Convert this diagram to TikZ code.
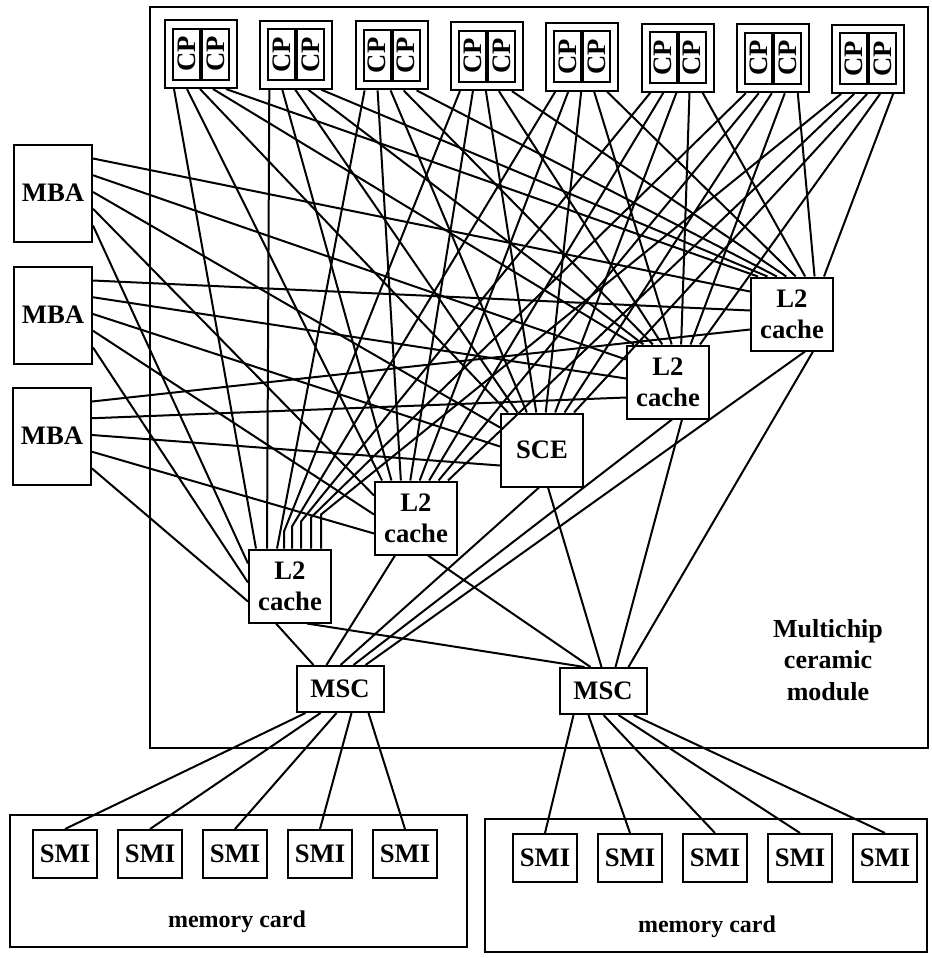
\documentclass[tikz,border=0pt]{standalone}
\usepackage{fontspec}
\setmainfont{Liberation Serif}
\usetikzlibrary{calc}
\begin{document}
\begin{tikzpicture}[x=0.75pt,y=-0.75pt,line width=1.5pt,
  lbl/.style={font=\fontsize{20}{23.5}\selectfont\bfseries,align=center},
  box/.style={draw,line width=1.5pt,inner sep=0pt,lbl},
  modbox/.style={draw,line width=1.5pt,minimum width=54pt,minimum height=51pt,inner sep=0pt},
  cpbox/.style={draw,line width=1.5pt,inner sep=0pt,minimum width=38.25pt,minimum height=20.25pt,rotate=90,lbl},
  mbabox/.style={box,minimum width=58.5pt,minimum height=72.75pt},
  tbox/.style={box,minimum width=61.5pt,minimum height=54.75pt},
  mscbox/.style={box,minimum width=65.25pt,minimum height=34.5pt},
  smibox/.style={box,minimum width=48pt,minimum height=36pt},
  bigbox/.style={draw,line width=1.5pt,inner sep=0pt},
  note/.style={font=\fontsize{18}{23}\selectfont\bfseries,align=center}]
\fill[white] (0,0) rectangle (932,958);
\useasboundingbox (0,0) rectangle (932,958);

% containers
\node[bigbox,minimum width=583.5pt,minimum height=555.75pt] (mcm) at (539,377.5) {};
\node[bigbox,minimum width=342.75pt,minimum height=99pt] (cardL) at (238.5,881) {};
\node[bigbox,minimum width=331.5pt,minimum height=99.75pt] (cardR) at (706,885.5) {};
\node[note,font=\fontsize{19.5}{23.5}\selectfont\bfseries] (mcmlbl) at (828,660) {Multichip\\ceramic\\module};
\node[note] (cardLlbl) at (237,922) {memory card};
\node[note] (cardRlbl) at (707,927) {memory card};

% CP modules
\foreach \i in {1,...,8} {
  \pgfmathsetmacro\cx{201+95.3*(\i-1)}
  \pgfmathsetmacro\cy{54+0.7*(\i-1)}
  \node[modbox] (m\i) at (\cx,\cy) {};
  \node[cpbox] (cp\i-1) at ($(m\i.center)+(-14.5,0)$) {CP};
  \node[cpbox] (cp\i-2) at ($(m\i.center)+(14.5,0)$) {CP};
}

% MBAs
\node[mbabox] (a1) at (53,193) {MBA};
\node[mbabox] (a2) at (53,315) {MBA};
\node[mbabox] (a3) at (52,436) {MBA};

% L2 caches and SCE
\node[tbox] (t1) at (290,586) {L2\\cache};
\node[tbox] (t2) at (416,518) {L2\\cache};
\node[tbox] (t3) at (542,450) {SCE};
\node[tbox] (t4) at (668,382) {L2\\cache};
\node[tbox] (t5) at (792,314) {L2\\cache};

% MSCs
\node[mscbox] (s1) at (340,689) {MSC};
\node[mscbox] (s2) at (603,691) {MSC};

% SMIs
\foreach \n/\x in {1/65,2/150,3/235,4/320,5/405}
  \node[smibox] (l\n) at (\x,854) {SMI};
\foreach \n/\x in {1/545,2/630,3/715,4/800,5/885}
  \node[smibox] (r\n) at (\x,858) {SMI};

% CP modules to L2 caches / SCE
\foreach \i in {1,...,8} {
  \foreach \k in {2,...,5} {
    \draw ($(m\i.south west)+({10+13*(\k-1)},0)$) -- ($(t\k.north west)+({8+66*(\i-1)/7},0)$);
  }
}
\foreach \i/\ex/\by in {1/8/0,2/19/0,3/29/0,4/36/17,5/44/22,6/53/27,7/63/31,8/73/34} {
  \draw ($(m\i.south west)+(10,0)$) -- ($(t1.north west)+(\ex,-\by)$) -- ($(t1.north west)+(\ex,0)$);
}

% MBAs to L2 caches / SCE
\foreach \j in {1,2,3} {
  \foreach \k in {1,...,5} {
    \draw ($(a\j.north east)+(0,{15+16.75*(5-\k)})$) -- ($(t\k.north west)+(0,{15+19*(\j-1)})$);
  }
}

% L2 caches / SCE to MSCs
\foreach \k/\a/\b/\c/\d in {1/28/59/18/26,2/21/54/31/32,3/39/48/45/43,4/46/56/58/57,5/55/63/70/70} {
  \draw ($(t\k.south west)+(\a,0)$) -- ($(s1.north west)+(\c,0)$);
  \draw ($(t\k.south west)+(\b,0)$) -- ($(s2.north west)+(\d,0)$);
}

% MSCs to SMIs
\foreach \n/\o in {1/10,2/25,3/41,4/56,5/73}
  \draw ($(s1.south west)+(\o,0)$) -- (l\n.north);
\foreach \n/\o in {1/15,2/30,3/45,4/60,5/75}
  \draw ($(s2.south west)+(\o,0)$) -- (r\n.north);
\end{tikzpicture}
\end{document}
